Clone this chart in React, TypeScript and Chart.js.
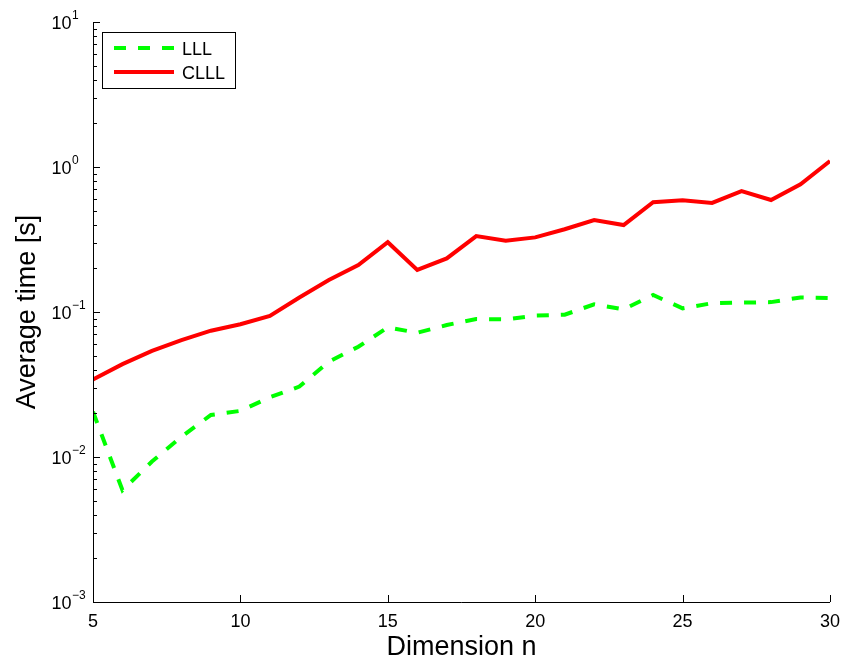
import React, { useEffect, useRef } from "react";
import { Chart, registerables } from "chart.js";

Chart.register(...registerables);

const dims = [5, 6, 7, 8, 9, 10, 11, 12, 13, 14, 15, 16, 17, 18, 19, 20, 21, 22, 23, 24, 25, 26, 27, 28, 29, 30];
const lllTimes = [0.0205, 0.0059, 0.0093, 0.0138, 0.0195, 0.0208, 0.0258, 0.0306, 0.0454, 0.0576, 0.0784, 0.0719, 0.0813, 0.0895, 0.089, 0.0944, 0.0958, 0.113, 0.1045, 0.131, 0.106, 0.115, 0.116, 0.117, 0.126, 0.125];
const clllTimes = [0.0343, 0.0437, 0.054, 0.064, 0.0743, 0.0823, 0.094, 0.126, 0.166, 0.211, 0.303, 0.195, 0.234, 0.334, 0.31, 0.327, 0.372, 0.431, 0.398, 0.571, 0.589, 0.565, 0.682, 0.592, 0.76, 1.1];
const seriesNames = ["LLL", "CLLL"];
const xTickValues = [5, 10, 15, 20, 25, 30];
const yTickValues = [0.001, 0.01, 0.1, 1, 10];
const yTickExponents = ["\u22123", "\u22122", "\u22121", "0", "1"];
const xTitle = "Dimension n";
const yTitle = "Average time [s]";

const FONT = "'Liberation Sans', Arial, Helvetica, sans-serif";
const GREEN = "#00ff00";
const RED = "#ff0000";

const axesPlugin = {
  id: "matlabAxes",
  afterDraw(chart: any) {
    const ctx = chart.ctx as CanvasRenderingContext2D;
    const area = chart.chartArea;
    const xs = chart.scales.x;
    const ys = chart.scales.y;
    ctx.save();
    ctx.strokeStyle = "#000";
    ctx.fillStyle = "#000";
    ctx.lineWidth = 1;
    // axis lines
    ctx.beginPath();
    ctx.moveTo(area.left + 0.5, area.top);
    ctx.lineTo(area.left + 0.5, area.bottom + 0.5);
    ctx.lineTo(area.right, area.bottom + 0.5);
    ctx.stroke();
    // x ticks
    ctx.beginPath();
    xTickValues.forEach((v) => {
      const px = Math.round(xs.getPixelForValue(v)) + 0.5;
      ctx.moveTo(px, area.bottom);
      ctx.lineTo(px, area.bottom - 7);
    });
    // y ticks major and minor
    const minExp = Math.round(Math.log10(yTickValues[0]));
    const maxExp = Math.round(Math.log10(yTickValues[yTickValues.length - 1]));
    for (let e = minExp; e <= maxExp; e++) {
      for (let d = 1; d <= 9; d++) {
        const v = d * Math.pow(10, e);
        if (v > yTickValues[yTickValues.length - 1] * 1.0001) break;
        const py = Math.round(ys.getPixelForValue(v)) + 0.5;
        ctx.moveTo(area.left, py);
        ctx.lineTo(area.left + (d === 1 ? 7 : 4), py);
      }
    }
    ctx.stroke();
    // x tick labels
    ctx.font = `18px ${FONT}`;
    ctx.textAlign = "center";
    ctx.textBaseline = "alphabetic";
    xTickValues.forEach((v) => {
      ctx.fillText(String(v), xs.getPixelForValue(v), area.bottom + 25);
    });
    // y tick labels with superscript
    yTickValues.forEach((v, i) => {
      const py = ys.getPixelForValue(v);
      ctx.font = `18px ${FONT}`;
      ctx.textAlign = "right";
      ctx.fillText("10", 71.5, py + 6.5);
      ctx.font = `12px ${FONT}`;
      ctx.textAlign = "left";
      ctx.fillText(yTickExponents[i], 72, py - 3.5);
    });
    // titles
    ctx.font = `27px ${FONT}`;
    ctx.textAlign = "center";
    ctx.fillText(xTitle, (area.left + area.right) / 2, area.bottom + 53);
    ctx.save();
    ctx.translate(35, (area.top + area.bottom) / 2);
    ctx.rotate(-Math.PI / 2);
    ctx.fillText(yTitle, 0, 0);
    ctx.restore();
    // legend
    const lx = area.left + 9.5;
    const ly = area.top + 10.5;
    const lw = 133;
    const lh = 56;
    ctx.fillStyle = "#fff";
    ctx.fillRect(lx, ly, lw, lh);
    ctx.strokeStyle = "#000";
    ctx.lineWidth = 1;
    ctx.strokeRect(lx, ly, lw, lh);
    const entries = [
      { name: seriesNames[0], color: GREEN, dash: [12, 12], y: ly + 15.5 },
      { name: seriesNames[1], color: RED, dash: [], y: ly + 39.5 },
    ];
    entries.forEach((en) => {
      ctx.beginPath();
      ctx.setLineDash(en.dash);
      ctx.strokeStyle = en.color;
      ctx.lineWidth = 4;
      ctx.moveTo(lx + 11.5, en.y);
      ctx.lineTo(lx + 71.5, en.y);
      ctx.stroke();
      ctx.setLineDash([]);
      ctx.fillStyle = "#000";
      ctx.font = `18px ${FONT}`;
      ctx.textAlign = "left";
      ctx.fillText(en.name, lx + 79.5, en.y + 6.5);
    });
    ctx.restore();
  },
};

export default function App() {
  const canvasRef = useRef<HTMLCanvasElement | null>(null);
  useEffect(() => {
    const canvas = canvasRef.current;
    if (!canvas) return;
    const chart = new Chart(canvas, {
      type: "line",
      data: {
        datasets: [
          {
            label: seriesNames[0],
            data: dims.map((d, i) => ({ x: d, y: lllTimes[i] })),
            borderColor: GREEN,
            borderWidth: 4,
            borderDash: [12, 12],
            pointRadius: 0,
            tension: 0,
            fill: false,
          },
          {
            label: seriesNames[1],
            data: dims.map((d, i) => ({ x: d, y: clllTimes[i] })),
            borderColor: RED,
            borderWidth: 4,
            pointRadius: 0,
            tension: 0,
            fill: false,
          },
        ],
      },
      options: {
        responsive: false,
        maintainAspectRatio: false,
        animation: false,
        layout: { padding: { left: 93, right: 13, top: 22, bottom: 65 } },
        plugins: { legend: { display: false }, tooltip: { enabled: false } },
        scales: {
          x: { type: "linear", min: 5, max: 30, display: false },
          y: { type: "logarithmic", min: 0.001, max: 10, display: false },
        },
      },
      plugins: [axesPlugin],
    });
    return () => chart.destroy();
  }, []);
  return (
    <div style={{ position: "fixed", left: 0, top: 0, width: 843, height: 667, background: "#fff" }}>
      <canvas ref={canvasRef} width={843} height={667} style={{ display: "block" }} />
    </div>
  );
}
